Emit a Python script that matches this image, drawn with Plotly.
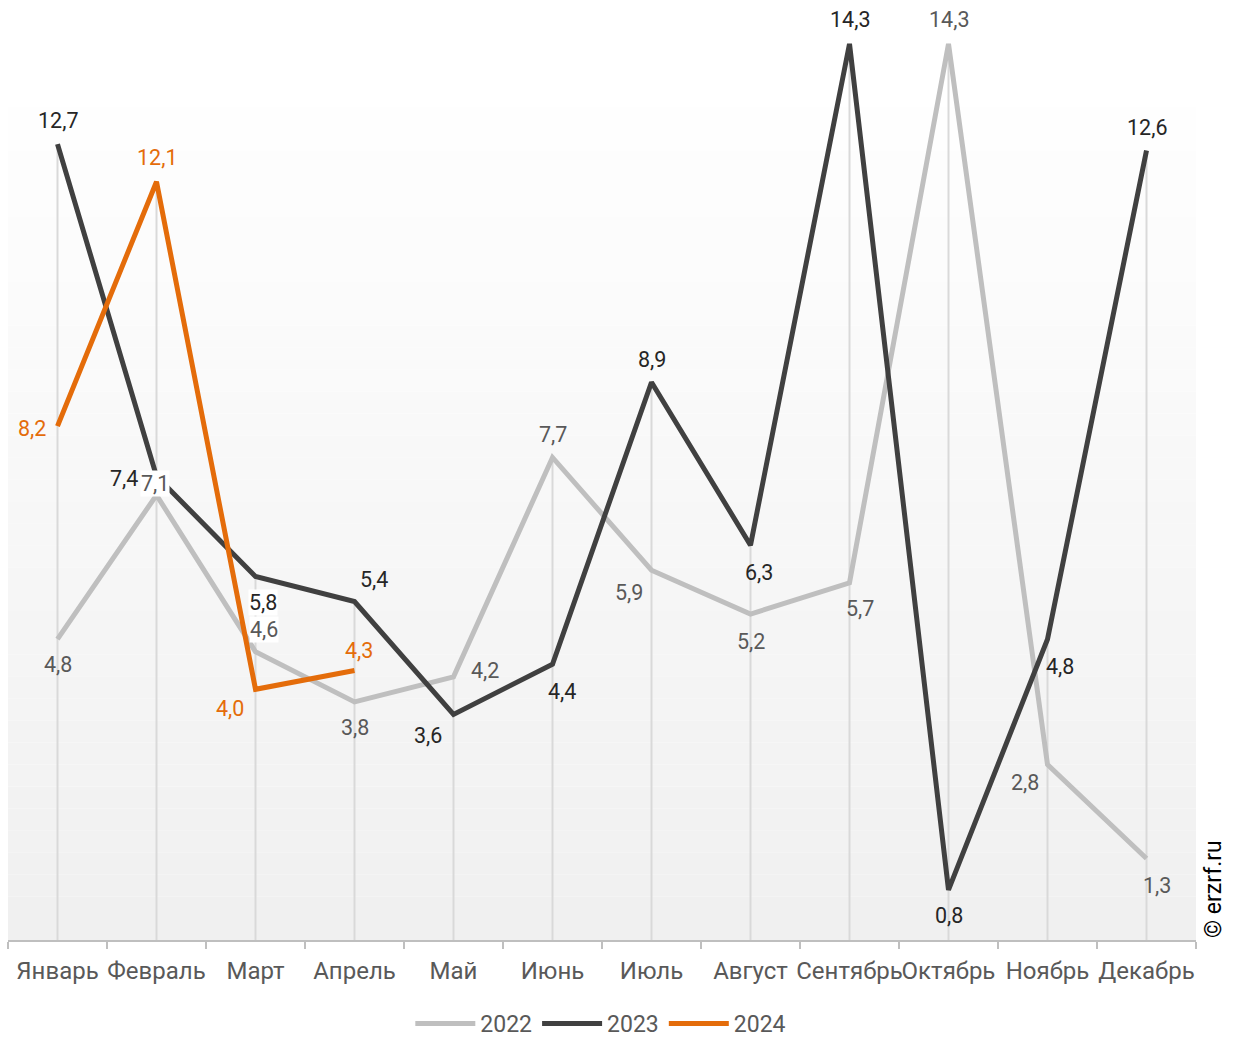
import plotly.graph_objects as go

MONTHS = ["Январь", "Февраль", "Март", "Апрель", "Май", "Июнь", "Июль",
          "Август", "Сентябрь", "Октябрь", "Ноябрь", "Декабрь"]
Y2022 = [4.8, 7.1, 4.6, 3.8, 4.2, 7.7, 5.9, 5.2, 5.7, 14.3, 2.8, 1.3]
Y2023 = [12.7, 7.4, 5.8, 5.4, 3.6, 4.4, 8.9, 6.3, 14.3, 0.8, 4.8, 12.6]
Y2024 = [8.2, 12.1, 4.0, 4.3]

# label offsets (px, dx right / dy up) relative to each point
OFF2022 = [(0, -25), (-2, 12), (8, 22), (0, -26), (31, 6), (0, 23),
           (-23, -22), (0, -27), (10, -26), (0, 24), (-23, -18), (10, -27)]
OFF2023 = [(0, 24), (-33, -2), (7, -26), (19, 22), (-26, -21), (9, -27),
           (0, 23), (8, -27), (0, 24), (0, -26), (12, -27), (0, 23)]
OFF2024 = [(-26, -2), (0, 24), (-26, -19), (4, 20)]
BOXED = {("2022", 1), ("2022", 2), ("2023", 2)}

FONT = "Roboto, 'Open Sans', sans-serif"


def fmt(v):
    return f"{v:.1f}".replace(".", ",")


fig = go.Figure()

# gradient plot background
steps = 40
top = 14.0
for i in range(steps):
    t = i / (steps - 1)
    c = int(round(255 - (255 - 240) * (1 - t)))
    fig.add_shape(type="rect", xref="x domain", yref="y", layer="below",
                  x0=0, x1=1, y0=top * i / steps, y1=top * (i + 1) / steps,
                  line_width=0, fillcolor=f"rgb({c},{c},{c})")

# drop lines
xs, ys = [], []
for i, m in enumerate(MONTHS):
    vals = [Y2022[i], Y2023[i]] + ([Y2024[i]] if i < len(Y2024) else [])
    xs += [m, m, None]
    ys += [0, max(vals), None]
fig.add_trace(go.Scatter(x=xs, y=ys, mode="lines", showlegend=False, hoverinfo="skip",
                         line=dict(color="#d9d9d9", width=2)))

series = [
    ("2022", Y2022, OFF2022, "#bfbfbf", "#595959"),
    ("2023", Y2023, OFF2023, "#404040", "#262626"),
    ("2024", Y2024, OFF2024, "#e46c0a", "#e46c0a"),
]
for name, vals, offs, col, tcol in series:
    fig.add_trace(go.Scatter(
        x=MONTHS[:len(vals)], y=vals, name=name, mode="lines",
        line=dict(color=col, width=5),
    ))
    for i, v in enumerate(vals):
        dx, dy = offs[i]
        fig.add_annotation(
            x=MONTHS[i], y=v, text=fmt(v), showarrow=False,
            xshift=dx, yshift=dy, borderpad=0,
            bgcolor="white" if (name, i) in BOXED else "rgba(0,0,0,0)",
            font=dict(color=tcol, size=21.5, family=FONT))

fig.add_annotation(text="© erzrf.ru", xref="paper", yref="paper", x=1.0143, y=0,
                   xanchor="center", yanchor="bottom", textangle=-90, showarrow=False,
                   font=dict(size=23, color="#000000", family=FONT))

fig.update_layout(
    width=1234, height=1045,
    paper_bgcolor="white", plot_bgcolor="white",
    margin=dict(l=8, r=38, t=0, b=104),
    font=dict(family=FONT, color="#595959"),
    xaxis=dict(type="category", range=[-0.5, 11.5], showgrid=False, automargin=False,
               showline=True, linecolor="#bfbfbf", linewidth=2, tickangle=0,
               ticks="outside", tickson="boundaries", ticklen=7, tickcolor="#bfbfbf",
               tickwidth=2, ticklabelstandoff=8,
               tickfont=dict(size=24, color="#595959")),
    yaxis=dict(range=[0, 15], showgrid=False, zeroline=False, showticklabels=False,
               automargin=False),
    legend=dict(orientation="h", x=0.499, xanchor="center", y=-0.0893, yanchor="middle",
                font=dict(size=23, color="#595959"), itemwidth=60),
    showlegend=True,
)

# drop the default 8px page margin so the figure fills the window exactly
fig.write_html("out.html", config={"displayModeBar": False},
               post_script="document.body.style.margin='0';")
